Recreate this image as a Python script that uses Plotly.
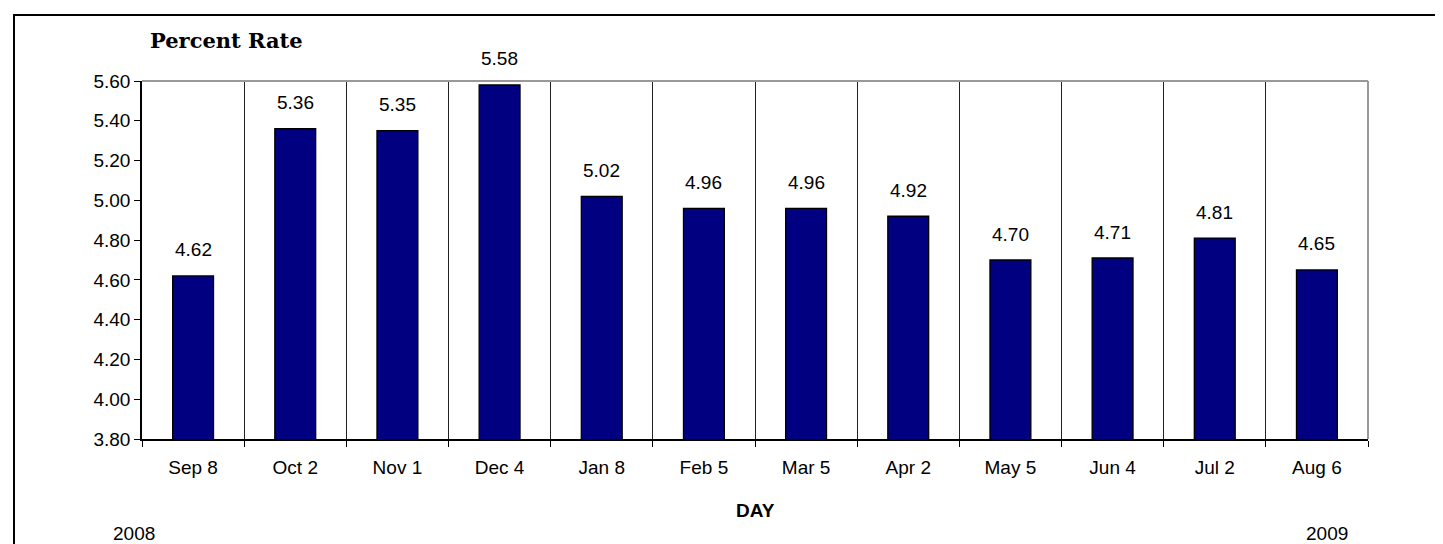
import plotly.graph_objects as go

categories = ["Sep 8", "Oct 2", "Nov 1", "Dec 4", "Jan 8", "Feb 5",
              "Mar 5", "Apr 2", "May 5", "Jun 4", "Jul 2", "Aug 6"]
values = [4.62, 5.36, 5.35, 5.58, 5.02, 4.96, 4.96, 4.92, 4.70, 4.71, 4.81, 4.65]
y_ticks = [3.80, 4.00, 4.20, 4.40, 4.60, 4.80, 5.00, 5.20, 5.40, 5.60]
title_text = "Percent Rate"
x_title = "DAY"
start_year = "2008"
end_year = "2009"

W, H = 1443, 544
L, R, T, B = 134, 1360, 73, 431  # plot area in pixels

def px(x):
    return (x - L) / (R - L)

def py(y):
    return (B - y) / (B - T)

FONT = "Liberation Sans, Arial, sans-serif"
FS = 19

fig = go.Figure()
fig.add_trace(go.Bar(
    x=categories, y=values,
    marker=dict(color="#000080", line=dict(color="black", width=1.3)),
    width=0.4,
    hoverinfo="x+y",
))

annotations = []
for c, v in zip(categories, values):
    annotations.append(dict(
        x=c, y=v, xref="x", yref="y", text=f"{v:.2f}", showarrow=False,
        yanchor="middle", yshift=26,
        font=dict(family=FONT, size=FS, color="black"),
    ))

annotations += [
    dict(x=px(218), y=py(32), xref="paper", yref="paper", text=f"<b>{title_text}</b>",
         showarrow=False, xanchor="center", yanchor="middle",
         font=dict(family="DejaVu Serif, serif", size=21, color="black")),
    dict(x=px(748), y=py(502), xref="paper", yref="paper", text=f"<b>{x_title}</b>",
         showarrow=False, xanchor="center", yanchor="middle",
         font=dict(family=FONT, size=FS, color="black")),
    dict(x=px(126), y=py(525), xref="paper", yref="paper", text=start_year,
         showarrow=False, xanchor="center", yanchor="middle",
         font=dict(family=FONT, size=FS, color="black")),
    dict(x=px(1319), y=py(525), xref="paper", yref="paper", text=end_year,
         showarrow=False, xanchor="center", yanchor="middle",
         font=dict(family=FONT, size=FS, color="black")),
]

shapes = [
    # outer chart frame
    dict(type="rect", xref="paper", yref="paper",
         x0=px(6), x1=px(1460), y0=py(560), y1=py(7),
         line=dict(color="black", width=2), layer="below"),
    # gray top and right border of plot area
    dict(type="line", xref="paper", yref="paper", x0=0, x1=1, y0=1, y1=1,
         line=dict(color="#999999", width=2)),
    dict(type="line", xref="paper", yref="paper", x0=1, x1=1, y0=0, y1=1,
         line=dict(color="#999999", width=2)),
]

fig.update_layout(
    width=W, height=H,
    margin=dict(l=L, r=W - R, t=T, b=H - B),
    paper_bgcolor="white", plot_bgcolor="white",
    showlegend=False,
    annotations=annotations,
    shapes=shapes,
    font=dict(family=FONT, size=FS, color="black"),
    xaxis=dict(
        type="category", tickson="boundaries",
        showgrid=True, gridcolor="#222222", gridwidth=1,
        showline=True, linecolor="black", linewidth=1.5,
        ticks="outside", ticklen=6, tickcolor="black",
        ticklabelstandoff=10,
        tickfont=dict(family=FONT, size=FS),
        range=[-0.5, len(categories) - 0.5],
        fixedrange=True,
    ),
    yaxis=dict(
        range=[3.80, 5.60], tickvals=y_ticks, tickformat=".2f",
        showgrid=False, zeroline=False,
        showline=True, linecolor="black", linewidth=1.5,
        ticks="outside", ticklen=6, tickcolor="black",
        tickfont=dict(family=FONT, size=FS),
        fixedrange=True,
    ),
)

fig.write_html("out.html")
